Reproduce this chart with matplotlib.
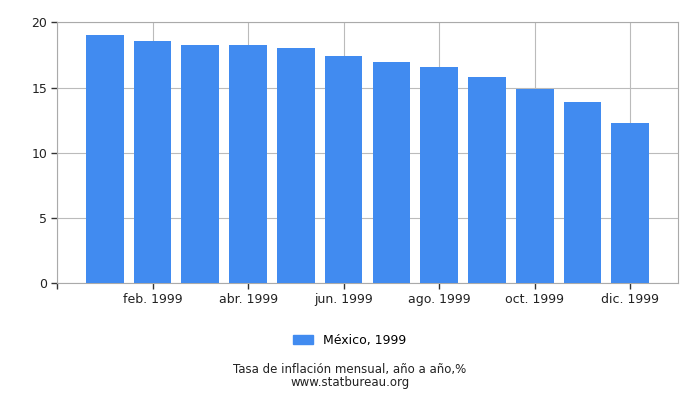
import matplotlib
matplotlib.use('Agg')
import matplotlib.pyplot as plt
from matplotlib.patches import Patch

# Monthly year-on-year inflation, Mexico 1999 (%)
months = ['ene. 1999', 'feb. 1999', 'mar. 1999', 'abr. 1999', 'may. 1999', 'jun. 1999',
          'jul. 1999', 'ago. 1999', 'sep. 1999', 'oct. 1999', 'nov. 1999', 'dic. 1999']
values = [19.02, 18.54, 18.25, 18.23, 18.0, 17.39, 16.99, 16.6, 15.79, 14.91, 13.88, 12.32]
yticks = [0, 5, 10, 15, 20]

bar_color = '#418bf0'
grid_color = '#bbbbbb'

fig = plt.figure(figsize=(7, 4), dpi=100)
ax = fig.add_axes([0.0814, 0.2918, 0.8872, 0.6522])

x = list(range(len(values)))
ax.bar(x, values, width=0.79, color=bar_color, zorder=3)

ax.set_xlim(-1, 12)
ax.set_ylim(0, 20)

# ticks: axis start plus every other month
tick_pos = [-1] + x[1::2]
tick_lab = [''] + months[1::2]
ax.set_xticks(tick_pos)
ax.set_xticklabels(tick_lab, fontsize=9, color='#222222')
ax.set_yticks(yticks)
ax.set_yticklabels([str(v) for v in yticks], fontsize=9, color='#222222')
ax.tick_params(axis='both', length=4, width=1, color='#333333', pad=3)

ax.grid(True, color=grid_color, linewidth=0.8, zorder=0)
for side in ['top', 'right', 'left', 'bottom']:
    ax.spines[side].set_color('#aaaaaa')
    ax.spines[side].set_linewidth(0.8)

fig.legend(handles=[Patch(color=bar_color, label='México, 1999')],
           loc='center', bbox_to_anchor=(0.5, 0.149), frameon=False,
           fontsize=9, handlelength=1.6, handleheight=0.7)

# two-line footer as one text block
fig.text(0.5, 0.06, 'Tasa de inflación mensual, año a año,%\nwww.statbureau.org',
         ha='center', va='center', fontsize=8.5, color='#222222',
         linespacing=0.95, multialignment='center')

fig.savefig('out.png', dpi=100)
